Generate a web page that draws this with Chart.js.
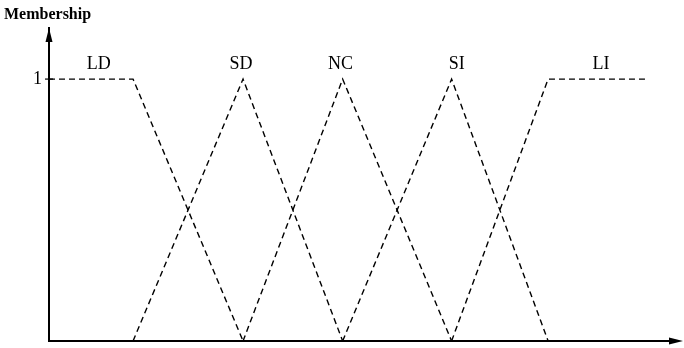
<!DOCTYPE html>
<html>
<head>
<meta charset="utf-8">
<script src="https://cdn.jsdelivr.net/npm/chart.js@4.4.1/dist/chart.umd.min.js"></script>
<style>
  html, body { margin: 0; padding: 0; background: #fff; overflow: hidden; }
  canvas { display: block; }
</style>
</head>
<body>
<canvas id="fuzzy" width="684" height="348"></canvas>
<script>
// membership functions, x positions of the breakpoints and their degree
const setNames = ['LD', 'SD', 'NC', 'SI', 'LI'];
const ldX = [0.19, 1.00, 2.06];
const ldY = [1, 1, 0];
const sdX = [1.00, 2.06, 3.02];
const sdY = [0, 1, 0];
const ncX = [2.06, 3.02, 4.07];
const ncY = [0, 1, 0];
const siX = [3.02, 4.07, 5.00];
const siY = [0, 1, 0];
const liX = [4.07, 5.00, 5.95];
const liY = [0, 1, 1];
const labelX = [0.67, 2.04, 3.00, 4.12, 5.51];
const labelY = [1.055, 1.055, 1.055, 1.055, 1.055];
const yTicks = [1];

const serif = '"Liberation Serif", "DejaVu Serif", serif';

function toPoints(xs, ys) {
    return xs.map((x, i) => ({ x: x, y: ys[i] }));
}

const seriesX = [ldX, sdX, ncX, siX, liX];
const seriesY = [ldY, sdY, ncY, siY, liY];

/**
 * Draws the horizontal axis, arrow heads, set names and the axis caption.
 */
const decorations = {
    id: 'decorations',
    afterDraw(chart) {
        const ctx = chart.ctx;
        const area = chart.chartArea;
        const xs = chart.scales.x;
        const ys = chart.scales.y;
        ctx.save();
        ctx.fillStyle = '#000';
        ctx.strokeStyle = '#000';

        // horizontal axis line
        ctx.lineWidth = 2;
        ctx.beginPath();
        ctx.moveTo(area.left - 1, area.bottom);
        ctx.lineTo(area.right - 6, area.bottom);
        ctx.stroke();

        // arrow heads
        ctx.beginPath();
        ctx.moveTo(area.left, area.top);
        ctx.lineTo(area.left - 3.5, area.top + 14);
        ctx.lineTo(area.left + 3.5, area.top + 14);
        ctx.closePath();
        ctx.fill();
        ctx.beginPath();
        ctx.moveTo(area.right, area.bottom);
        ctx.lineTo(area.right - 14, area.bottom - 3.5);
        ctx.lineTo(area.right - 14, area.bottom + 3.5);
        ctx.closePath();
        ctx.fill();

        // tick mark crossing the axis
        ctx.lineWidth = 1.2;
        yTicks.forEach(v => {
            const py = ys.getPixelForValue(v);
            ctx.beginPath();
            ctx.moveTo(area.left - 4, py);
            ctx.lineTo(area.left + 4, py);
            ctx.stroke();
        });

        // set names
        ctx.font = '18px ' + serif;
        ctx.textAlign = 'center';
        ctx.textBaseline = 'middle';
        setNames.forEach((name, i) => {
            ctx.fillText(name, xs.getPixelForValue(labelX[i]), ys.getPixelForValue(labelY[i]));
        });

        // axis caption
        ctx.font = 'bold 16px ' + serif;
        ctx.textAlign = 'left';
        ctx.fillText('Membership', 4, 15);
        ctx.restore();
    }
};

let canvas = document.getElementById('fuzzy');
new Chart(canvas, {
    type: 'line',
    data: {
        datasets: setNames.map((name, i) => ({
            label: name,
            data: toPoints(seriesX[i], seriesY[i]),
            borderColor: '#000',
            borderWidth: 1.4,
            borderDash: [6, 4],
            pointRadius: 0,
            fill: false,
            tension: 0
        }))
    },
    options: {
        responsive: false,
        animation: false,
        devicePixelRatio: 1,
        layout: {
            padding: { left: 0, top: 28, right: 1, bottom: 7 }
        },
        plugins: {
            legend: { display: false },
            tooltip: { enabled: false }
        },
        scales: {
            x: {
                type: 'linear',
                min: 0.19,
                max: 6.3,
                display: false
            },
            y: {
                type: 'linear',
                min: 0,
                max: 1.195,
                afterBuildTicks: function (axis) {
                    axis.ticks = yTicks.map(v => ({ value: v }));
                },
                afterFit: function (axis) {
                    axis.width = 49;
                    axis.paddingTop = 0;
                    axis.paddingBottom = 0;
                },
                ticks: {
                    color: '#000',
                    padding: 7,
                    font: { family: serif, size: 18 }
                },
                grid: {
                    display: true,
                    drawOnChartArea: false,
                    drawTicks: false,
                    tickLength: 5
                },
                border: { display: true, color: '#000', width: 2 }
            }
        }
    },
    plugins: [decorations]
});
</script>
</body>
</html>
